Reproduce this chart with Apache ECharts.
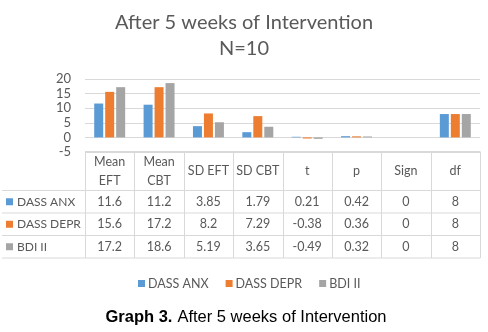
<!DOCTYPE html>
<html>
<head>
<meta charset="utf-8">
<script src="https://cdn.jsdelivr.net/npm/echarts@6/dist/echarts.min.js"></script>
<style>
  html, body { margin: 0; padding: 0; background: #fff; }
  #chart { width: 488px; height: 332px; }
</style>
</head>
<body>
<div id="chart"></div>
<script>
// columns of the data table / chart categories
const categories = ["Mean\nEFT", "Mean\nCBT", "SD EFT", "SD CBT", "t", "p", "Sign", "df"];
const seriesNames = ["DASS ANX", "DASS DEPR", "BDI II"];
const dassAnx = [11.6, 11.2, 3.85, 1.79, 0.21, 0.42, 0, 8];
const dassDepr = [15.6, 17.2, 8.2, 7.29, -0.38, 0.36, 0, 8];
const bdiII = [17.2, 18.6, 5.19, 3.65, -0.49, 0.32, 0, 8];
const yTicks = [-5, 0, 5, 10, 15, 20];

const colors = ["#5B9BD5", "#ED7D31", "#A5A5A5"];
const rows = [dassAnx, dassDepr, bdiII];
const textColor = "#595959";
const lineColor = "#D9D9D9";
const font = "Lato, 'Open Sans', sans-serif";
const arial = "'Liberation Sans', Arial, sans-serif";

const chart = echarts.init(document.getElementById("chart"));

const options = {
    animation: false,
    color: colors,
    title: [
        {
            text: "After 5 weeks of Intervention\nN=10",
            left: "center",
            top: 5,
            textStyle: {
                fontFamily: font,
                fontSize: 20,
                fontWeight: "normal",
                color: textColor,
                lineHeight: 26,
            },
        },
        {
            text: "{b|Graph 3.} {n|After 5 weeks of Intervention}",
            left: 241,
            textAlign: "center",
            top: 303,
            textStyle: {
                fontWeight: "normal",
                rich: {
                    b: { fontFamily: arial, fontSize: 16.5, fontWeight: "bold", color: "#000" },
                    n: { fontFamily: arial, fontSize: 16.5, fontWeight: "normal", color: "#000" },
                },
            },
        },
    ],
    legend: {
        data: seriesNames,
        left: 133,
        top: 272,
        icon: "rect",
        itemWidth: 7,
        itemHeight: 7,
        itemGap: 17,
        textStyle: {
            fontFamily: font,
            fontSize: 12.5,
            color: textColor,
            padding: [0, 0, 0, -2],
        },
    },
    grid: {
        left: 85,
        right: 8,
        top: 79,
        bottom: 180,
        containLabel: false,
    },
    xAxis: {
        type: "category",
        data: categories,
        axisLine: { show: false },
        axisTick: { show: false },
        axisLabel: { show: false },
    },
    yAxis: {
        type: "value",
        min: yTicks[0],
        max: yTicks[yTicks.length - 1],
        interval: 5,
        axisLine: { show: false },
        axisTick: { show: false },
        axisLabel: {
            margin: 14,
            fontFamily: font,
            fontSize: 13,
            color: textColor,
        },
        splitLine: { lineStyle: { color: lineColor } },
    },
    series: seriesNames.map((name, i) => ({
        name: name,
        type: "bar",
        data: rows[i],
        barWidth: 9,
        barGap: "22%",
    })),
};

chart.setOption(options);

// data table below the plot, aligned to the category axis
function buildTable() {
    const top = 151.5;
    const rowLines = [190.5, 213, 235.5, 258];
    const left = 85;
    const right = 480;
    const step = chart.convertToPixel({ xAxisIndex: 0 }, 1) - chart.convertToPixel({ xAxisIndex: 0 }, 0);
    const elements = [];
    const lineStyle = { stroke: lineColor, lineWidth: 1 };

    elements.push({ type: "line", shape: { x1: left, y1: top, x2: right, y2: top }, style: lineStyle });
    rowLines.forEach((y) => {
        elements.push({ type: "line", shape: { x1: 2, y1: y, x2: right, y2: y }, style: lineStyle });
    });
    for (let c = 0; c <= categories.length; c++) {
        const x = Math.round(left + c * step) + 0.5;
        elements.push({ type: "line", shape: { x1: x, y1: top, x2: x, y2: rowLines[3] }, style: lineStyle });
    }

    const cellText = (x, y, text) => ({
        type: "text",
        x: x,
        y: y,
        style: {
            text: text,
            fill: textColor,
            font: "12.5px " + font,
            align: "center",
            verticalAlign: "middle",
            lineHeight: 19,
        },
    });

    categories.forEach((cat, c) => {
        const cx = chart.convertToPixel({ xAxisIndex: 0 }, c);
        elements.push(cellText(cx, (top + rowLines[0]) / 2, cat));
        rows.forEach((vals, r) => {
            const y0 = rowLines[r];
            const y1 = rowLines[r + 1];
            elements.push(cellText(cx, (y0 + y1) / 2, String(vals[c])));
        });
    });

    seriesNames.forEach((name, r) => {
        const y = (rowLines[r] + rowLines[r + 1]) / 2;
        elements.push({
            type: "rect",
            shape: { x: 6, y: y - 3.5, width: 7, height: 7 },
            style: { fill: colors[r] },
        });
        elements.push({
            type: "text",
            x: 17,
            y: y,
            style: {
                text: name,
                fill: textColor,
                font: "12px " + font,
                align: "left",
                verticalAlign: "middle",
            },
        });
    });

    chart.setOption({ graphic: elements });
}

buildTable();
</script>
</body>
</html>
